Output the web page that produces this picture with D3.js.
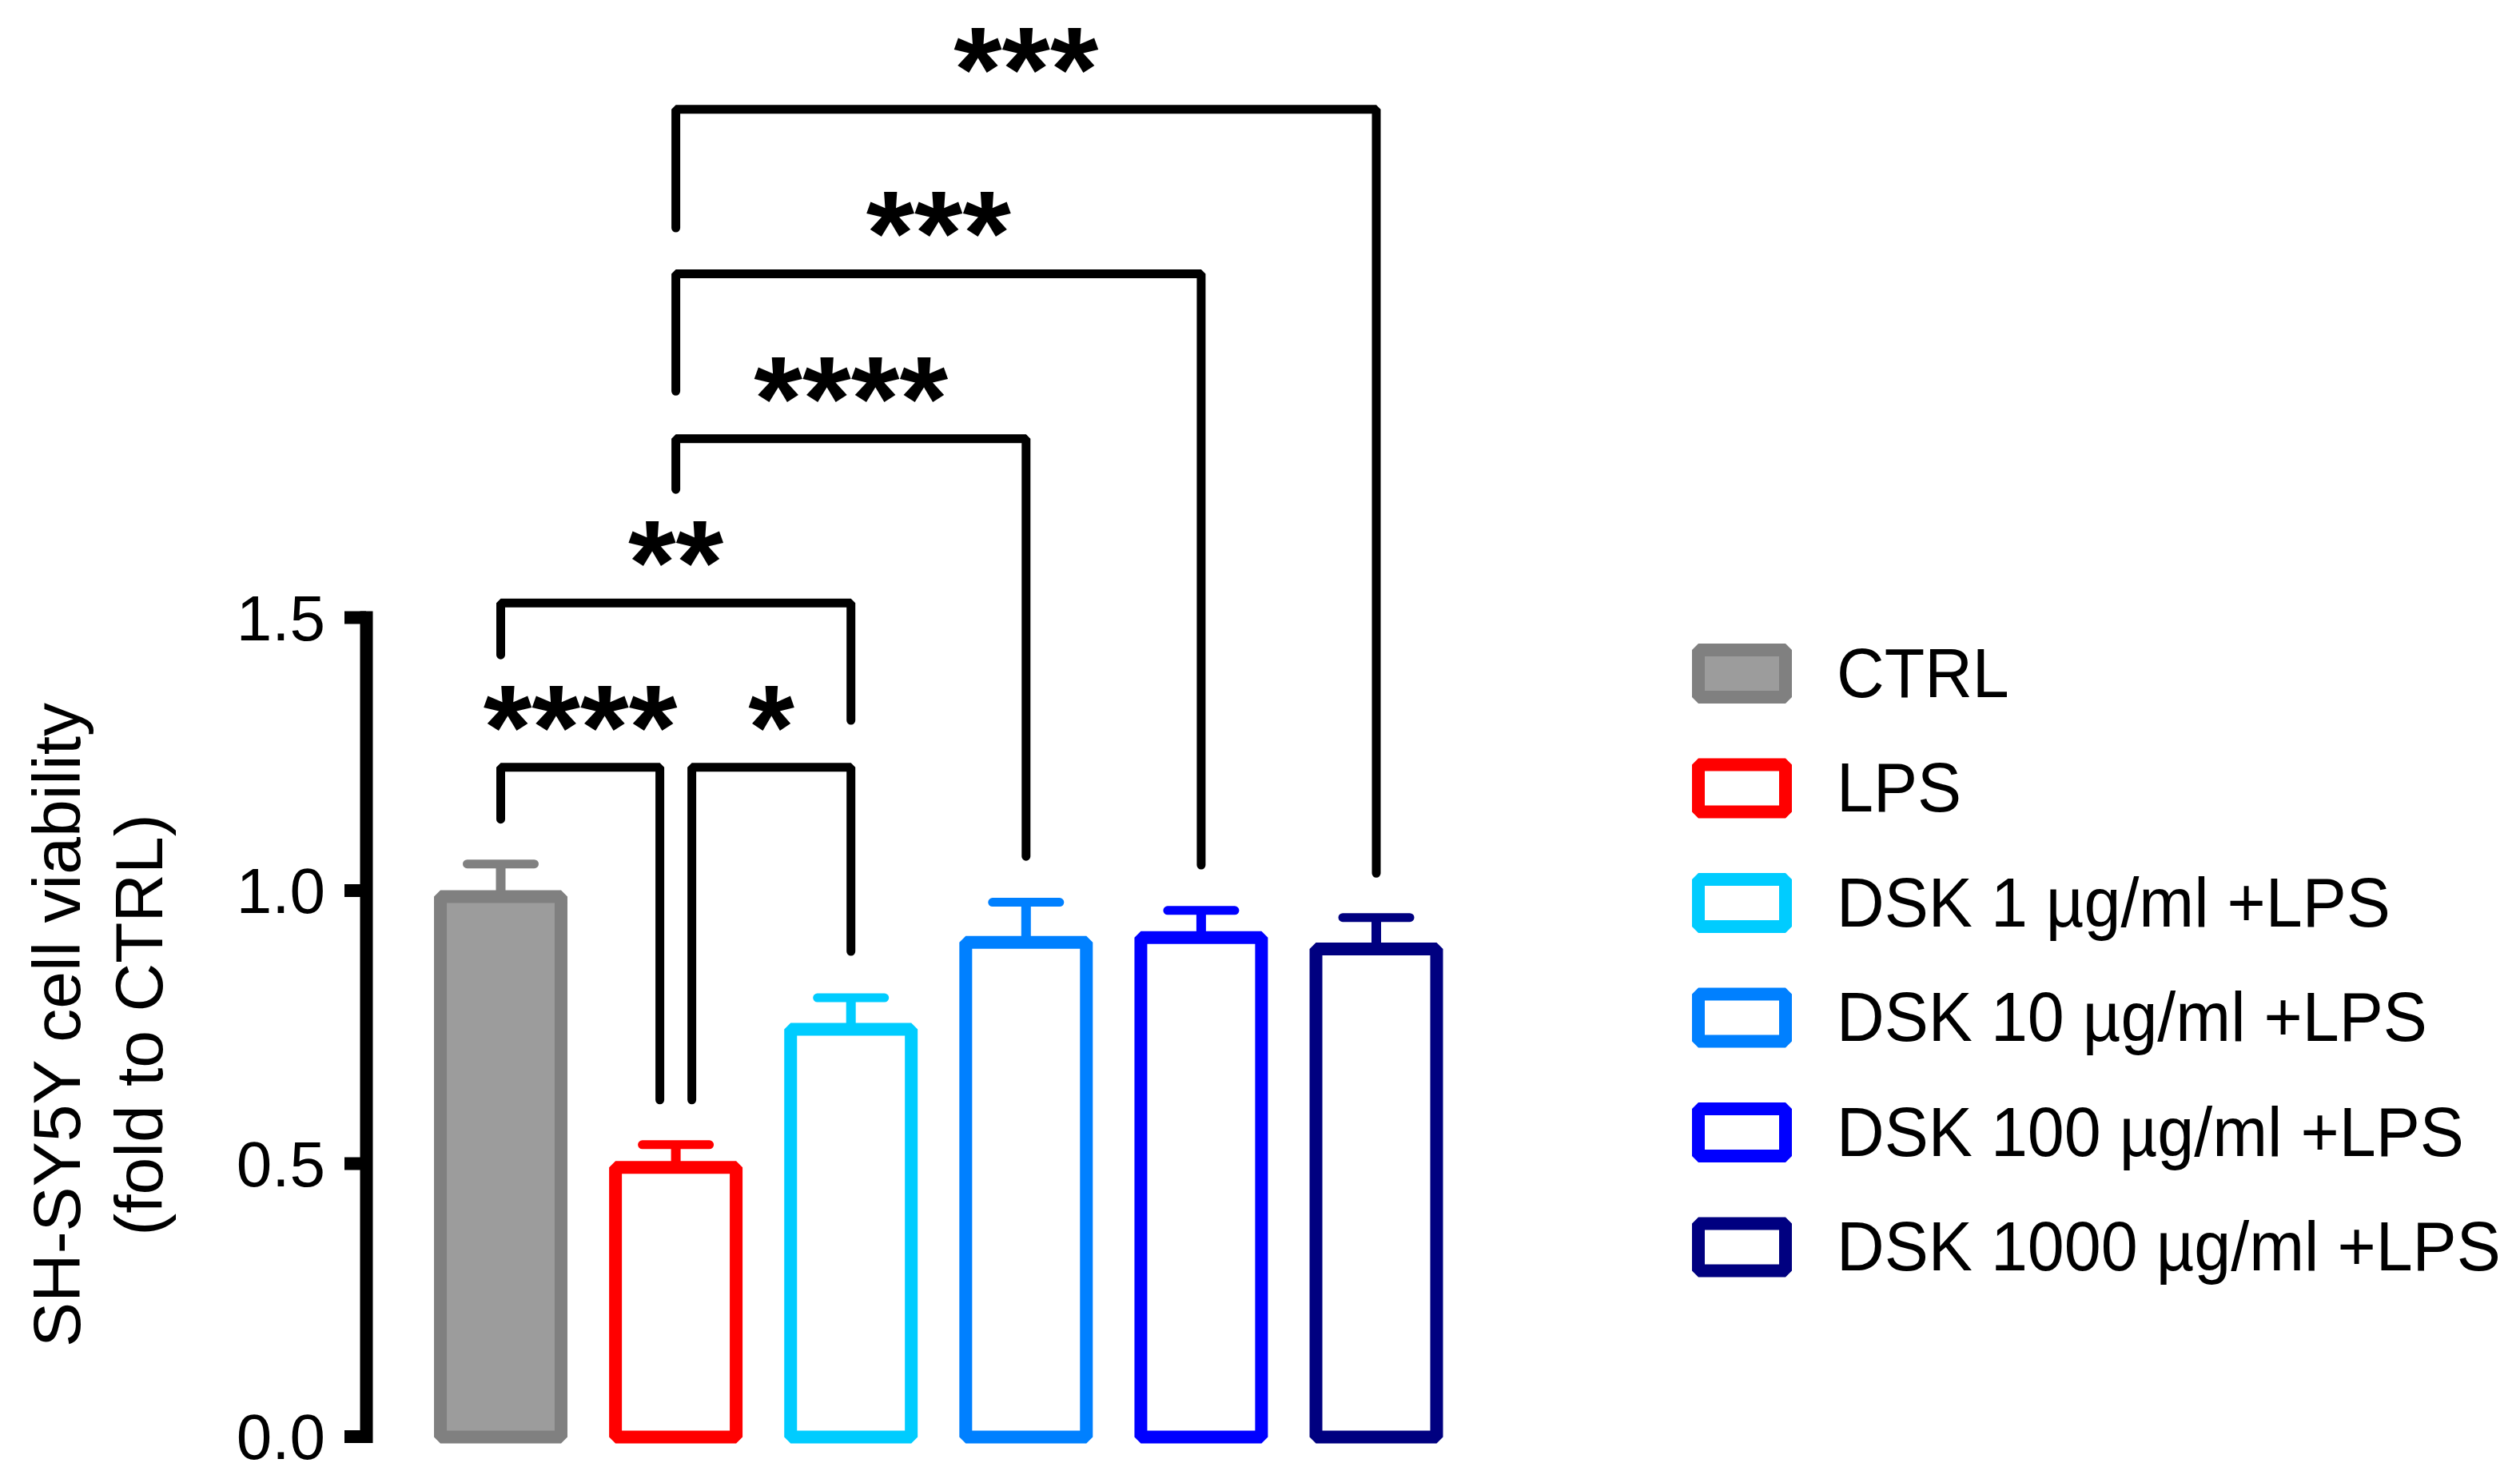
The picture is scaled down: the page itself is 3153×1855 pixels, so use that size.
<!DOCTYPE html>
<html>
<head>
<meta charset="utf-8">
<script src="https://cdn.jsdelivr.net/npm/d3@7/dist/d3.min.js"></script>
<style>
  html, body { margin: 0; padding: 0; background: #ffffff; }
  svg { display: block; }
  text { font-family: "Liberation Sans", Arial, Helvetica, sans-serif; fill: #000; }
</style>
</head>
<body>
<svg id="chart" width="3153" height="1855"></svg>
<script>
// ---------------- data ----------------
const groups = ["CTRL", "LPS", "DSK 1 µg/ml +LPS", "DSK 10 µg/ml +LPS", "DSK 100 µg/ml +LPS", "DSK 1000 µg/ml +LPS"];
const means = [1.000, 0.504, 0.757, 0.916, 0.925, 0.904];
const sems  = [0.048, 0.030, 0.046, 0.062, 0.038, 0.046];
const yTicks = [0.0, 0.5, 1.0, 1.5];
const yTickLabels = ["0.0", "0.5", "1.0", "1.5"];
const yTitle = ["SH-SY5Y cell viability", "(fold to CTRL)"];

// significance comparisons (group indices, bracket level and leg ends in data units)
const cmpFrom   = [1, 1, 1, 0, 0, 1];
const cmpTo     = [5, 4, 3, 2, 1, 2];
const cmpLevel  = [2.430, 2.129, 1.827, 1.526, 1.225, 1.225];
const cmpLeftEnd  = [2.213, 1.914, 1.734, 1.431, 1.130, 0.616];
const cmpRightEnd = [1.031, 1.046, 1.062, 1.311, 0.616, 0.888];
const cmpLabel  = ["***", "***", "****", "**", "****", "*"];

// ---------------- styles ----------------
const strokeColors = ["#808080", "#FF0000", "#00CCFF", "#0080FF", "#0000FF", "#000080"];
const fillColors   = ["#9C9C9C", "#FFFFFF", "#FFFFFF", "#FFFFFF", "#FFFFFF", "#FFFFFF"];

const svg = d3.select("#chart");

const step = 219.1;
const x = d3.scaleBand()
  .domain(groups)
  .range([626.5 - step / 2, 626.5 + step * 5.5])
  .paddingInner(0.238)
  .paddingOuter(0.119);

const y = d3.scaleLinear().domain([0, 1.5]).range([1796.5, 772]);

const barStroke = 16;

// ---------------- axis ----------------
const axis = d3.axisLeft(y)
  .tickValues(yTicks)
  .tickFormat((d, i) => yTickLabels[i])
  .tickSize(27)
  .tickSizeOuter(0)
  .tickPadding(0);

const gAxis = svg.append("g").attr("transform", "translate(458,0)").call(axis);
gAxis.select(".domain")
  .attr("stroke", "#000").attr("stroke-width", 16).attr("stroke-linecap", "square");
gAxis.selectAll(".tick line")
  .attr("stroke", "#000").attr("stroke-width", 16);
gAxis.selectAll(".tick text")
  .attr("x", -51)
  .attr("dy", null)
  .attr("y", 28)
  .attr("font-size", 80)
  .attr("font-family", "'Liberation Sans', Arial, sans-serif")
  .attr("fill", "#000")
  .attr("text-anchor", "end");

// ---------------- y title ----------------
const gTitle = svg.append("g").attr("transform", "translate(0,1282) rotate(-90)");
gTitle.selectAll("text")
  .data(yTitle)
  .join("text")
  .attr("x", 0)
  .attr("y", (d, i) => i === 0 ? 100 : 203)
  .attr("text-anchor", "middle")
  .attr("font-size", 84)
  .text(d => d);

// ---------------- bars ----------------
const gBars = svg.append("g");
gBars.selectAll("rect")
  .data(groups)
  .join("rect")
  .attr("x", d => x(d) + barStroke / 2)
  .attr("width", x.bandwidth() - barStroke)
  .attr("y", (d, i) => y(means[i]) + barStroke / 2)
  .attr("height", (d, i) => y(0) - y(means[i]) - barStroke / 2 + 1)
  .attr("fill", (d, i) => fillColors[i])
  .attr("stroke", (d, i) => strokeColors[i])
  .attr("stroke-width", barStroke)
  .attr("stroke-linejoin", "bevel");

// error bars (upper only)
const gErr = svg.append("g");
groups.forEach((g, i) => {
  const cx = x(g) + x.bandwidth() / 2;
  gErr.append("line")
    .attr("x1", cx).attr("x2", cx)
    .attr("y1", y(means[i]) + 2).attr("y2", y(means[i] + sems[i]))
    .attr("stroke", strokeColors[i]).attr("stroke-width", 12);
  gErr.append("line")
    .attr("x1", cx - 42).attr("x2", cx + 42)
    .attr("y1", y(means[i] + sems[i])).attr("y2", y(means[i] + sems[i]))
    .attr("stroke", strokeColors[i]).attr("stroke-width", 11)
    .attr("stroke-linecap", "round");
});

// ---------------- significance brackets ----------------
const gSig = svg.append("g");
const nudge = 20;
cmpFrom.forEach((a, k) => {
  const b = cmpTo[k];
  let xa = x(groups[a]) + x.bandwidth() / 2;
  let xb = x(groups[b]) + x.bandwidth() / 2;
  // nudge legs that share a group with another bracket on the same level
  cmpFrom.forEach((a2, j) => {
    if (j === k || cmpLevel[j] !== cmpLevel[k]) return;
    if (cmpTo[j] === a) xa += nudge;
    if (a2 === b) xb -= nudge;
  });
  const yl = y(cmpLevel[k]);
  const path = d3.path();
  path.moveTo(xa, y(cmpLeftEnd[k]));
  path.lineTo(xa, yl);
  path.lineTo(xb, yl);
  path.lineTo(xb, y(cmpRightEnd[k]));
  gSig.append("path")
    .attr("d", path.toString())
    .attr("fill", "none")
    .attr("stroke", "#000")
    .attr("stroke-width", 11)
    .attr("stroke-linejoin", "bevel")
    .attr("stroke-linecap", "round");
  const n = cmpLabel[k].length;
  gSig.append("text")
    .attr("x", (xa + xb) / 2)
    .attr("y", yl - 44 + 46)
    .attr("text-anchor", "middle")
    .attr("font-family", "'DejaVu Sans', sans-serif")
    .attr("font-weight", "bold")
    .attr("font-size", 150)
    .attr("textLength", n * 61.7 - 4)
    .attr("lengthAdjust", "spacingAndGlyphs")
    .text(cmpLabel[k]);
});

// ---------------- legend ----------------
const legX = 2117, legY0 = 842.5, legStep = 143.5, swW = 125, swH = 75;
const gLeg = svg.append("g");
groups.forEach((g, i) => {
  const cy = legY0 + i * legStep;
  gLeg.append("rect")
    .attr("x", legX + barStroke / 2)
    .attr("y", cy - swH / 2 + barStroke / 2)
    .attr("width", swW - barStroke)
    .attr("height", swH - barStroke)
    .attr("fill", fillColors[i])
    .attr("stroke", strokeColors[i])
    .attr("stroke-width", barStroke)
    .attr("stroke-linejoin", "bevel");
  gLeg.append("text")
    .attr("transform", `translate(2298,${cy + 29}) scale(0.95,1)`)
    .attr("font-size", 87)
    .text(g);
});
</script>
</body>
</html>
